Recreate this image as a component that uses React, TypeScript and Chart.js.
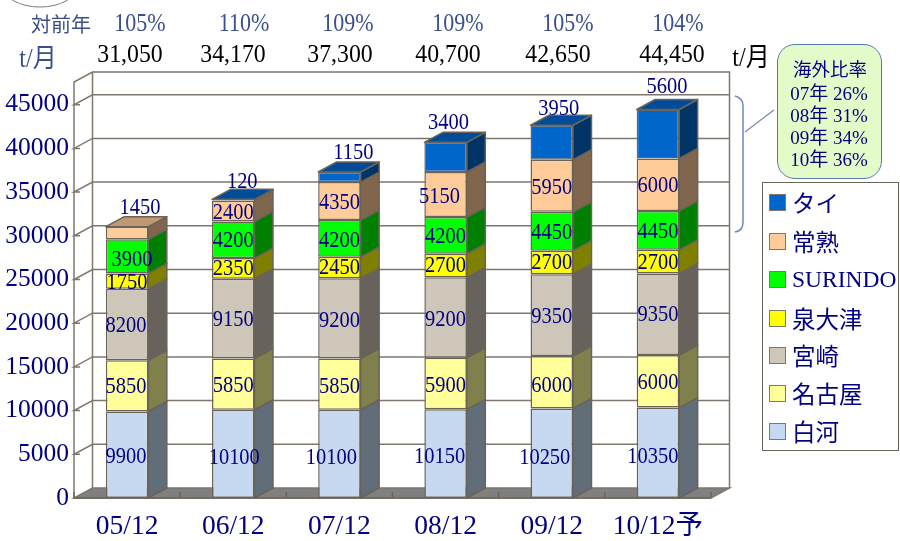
import React, { useEffect, useRef } from "react";
import { Chart, registerables } from "chart.js";

Chart.register(...registerables);

const categories = ["05/12", "06/12", "07/12", "08/12", "09/12", "10/12予"];
const shirakawa = [9900, 10100, 10100, 10150, 10250, 10350];
const nagoya = [5850, 5850, 5850, 5900, 6000, 6000];
const miyazaki = [8200, 9150, 9200, 9200, 9350, 9350];
const senotsu = [1750, 2350, 2450, 2700, 2700, 2700];
const surindo = [3900, 4200, 4200, 4200, 4450, 4450];
const joshu = [1450, 2400, 4350, 5150, 5950, 6000];
const thai = [null, 120, 1150, 3400, 3950, 5600];
const yTicks = [0, 5000, 10000, 15000, 20000, 25000, 30000, 35000, 40000, 45000];
const yoyLabels = ["105%", "110%", "109%", "109%", "105%", "104%"];
const totalLabels = ["31,050", "34,170", "37,300", "40,700", "42,650", "44,450"];
const overseasTitle = "海外比率";
const overseasLines = ["07年 26%", "08年 31%", "09年 34%", "10年 36%"];

const SERIF = '"Liberation Serif", "Noto Sans CJK JP", serif';
const GOTHIC = '"Noto Sans CJK JP", sans-serif';
const NAVY = "#000080";
const LINE = "#7f776d";
const EDGE = "#6b6358";
const DX = 18.5;
const DY = 10;

const series = [
  { name: "白河", data: shirakawa, front: "#c6d9f0", side: "#616d78", top: "#94a3b4" },
  { name: "名古屋", data: nagoya, front: "#ffff99", side: "#80804d", top: "#bfbf73" },
  { name: "宮崎", data: miyazaki, front: "#cdc6b9", side: "#67635c", top: "#9a948b" },
  { name: "泉大津", data: senotsu, front: "#ffff00", side: "#808000", top: "#bfbf00" },
  { name: "SURINDO", data: surindo, front: "#00ff00", side: "#008000", top: "#00bf00" },
  { name: "常熟", data: joshu, front: "#ffcc99", side: "#80664d", top: "#bf9973" },
  { name: "タイ", data: thai, front: "#0066cc", side: "#003366", top: "#004c99" },
];

// hand-placed label nudges per series / column, [dx, dy]
const nudges: number[][][] = [
  [[-1, 2], [1, 4], [-8, 4], [-6, 3], [-7, 5], [-5, 4]],
  [[-1, 1], [0, 2], [0, 3], [0, 2], [0, 4], [0, 2]],
  [[-1, 1], [0, 1], [0, 3], [0, 2], [0, 2], [0, 1]],
  [[0, 2], [0, 1], [0, 0], [0, 0], [0, 0], [0, 1]],
  [[5, 4], [0, 1], [0, 3], [0, 2], [0, 2], [0, 2]],
  [[13, -25], [0, 2], [0, 2], [-6, 2], [0, 2], [0, 1]],
  [[0, 0], [9, -18], [14, -24], [3, -34], [7, -34], [9, -47]],
];

const box3d = {
  id: "box3d",
  beforeDatasetsDraw(chart: any) {
    const { ctx, scales } = chart;
    const xs = scales.x;
    const ys = scales.y;
    const l = xs.left;
    const r = xs.right;
    const b = ys.getPixelForValue(0);
    const t = ys.top;
    ctx.save();
    // floor
    ctx.fillStyle = "#808080";
    ctx.beginPath();
    ctx.moveTo(l, b);
    ctx.lineTo(r, b);
    ctx.lineTo(r + DX, b - DY);
    ctx.lineTo(l + DX, b - DY);
    ctx.closePath();
    ctx.fill();
    ctx.strokeStyle = LINE;
    ctx.lineWidth = 1.5;
    ctx.stroke();
    // walls
    ctx.beginPath();
    ctx.moveTo(l, b);
    ctx.lineTo(l, t);
    ctx.lineTo(l + DX, t - DY);
    ctx.lineTo(r + DX, t - DY);
    ctx.lineTo(r + DX, b - DY);
    ctx.moveTo(l + DX, t - DY);
    ctx.lineTo(l + DX, b - DY);
    ctx.stroke();
    // grid
    for (const tick of ys.ticks) {
      if (tick.value === 0) continue;
      const y = ys.getPixelForValue(tick.value);
      ctx.beginPath();
      ctx.moveTo(l + 6, y);
      ctx.lineTo(l, y);
      ctx.lineTo(l + DX, y - DY);
      ctx.lineTo(r + DX, y - DY);
      ctx.stroke();
    }
    // floor ticks
    ctx.strokeStyle = EDGE;
    for (let i = 0; i <= categories.length; i++) {
      const x = l + ((r - l) * i) / categories.length;
      ctx.beginPath();
      ctx.moveTo(x, b);
      ctx.lineTo(x, b - 6);
      ctx.stroke();
    }
    ctx.lineWidth = 1.5;
    ctx.beginPath();
    ctx.moveTo(l, b);
    ctx.lineTo(r, b);
    ctx.stroke();
    // bar sides and tops
    ctx.strokeStyle = EDGE;
    ctx.lineJoin = "round";
    series.forEach((s, d) => {
      const meta = chart.getDatasetMeta(d);
      meta.data.forEach((el: any, i: number) => {
        if (s.data[i] == null) return;
        const xr = el.x + el.width / 2;
        ctx.fillStyle = s.side;
        ctx.beginPath();
        ctx.moveTo(xr, el.base);
        ctx.lineTo(xr + DX, el.base - DY);
        ctx.lineTo(xr + DX, el.y - DY);
        ctx.lineTo(xr, el.y);
        ctx.closePath();
        ctx.fill();
        ctx.stroke();
        const isTop = series.slice(d + 1).every((o) => o.data[i] == null);
        if (isTop) {
          const xl = el.x - el.width / 2;
          ctx.fillStyle = s.top;
          ctx.beginPath();
          ctx.moveTo(xl, el.y);
          ctx.lineTo(xr, el.y);
          ctx.lineTo(xr + DX, el.y - DY);
          ctx.lineTo(xl + DX, el.y - DY);
          ctx.closePath();
          ctx.fill();
          ctx.stroke();
        }
      });
    });
    ctx.restore();
  },
  afterDatasetsDraw(chart: any) {
    const { ctx } = chart;
    series.forEach((s, d) => {
      const meta = chart.getDatasetMeta(d);
      meta.data.forEach((el: any, i: number) => {
        const v = s.data[i];
        if (v == null) return;
        const [nx, ny] = nudges[d][i];
        ctx.save();
        ctx.font = `23px ${SERIF}`;
        ctx.fillStyle = NAVY;
        ctx.textAlign = "center";
        ctx.textBaseline = "middle";
        ctx.translate(el.x + nx, (el.y + el.base) / 2 + ny);
        ctx.scale(0.89, 1);
        ctx.fillText(String(v), 0, 0);
        ctx.restore();
      });
    });
  },
};

const at = (x: number, y: number, extra: React.CSSProperties = {}, sy = 1): React.CSSProperties => ({
  position: "absolute",
  left: x,
  top: y,
  transform: `translate(-50%, -50%) scaleY(${sy})`,
  whiteSpace: "nowrap",
  lineHeight: 1,
  ...extra,
});

const yoyX = [140, 244, 348, 458, 568, 678];
const totalX = [130, 233, 340, 448, 558, 672];
const legendY = [202, 241, 279, 318, 355, 393, 431];

export default function App() {
  const ref = useRef<HTMLCanvasElement>(null);
  useEffect(() => {
    const chart = new Chart(ref.current as HTMLCanvasElement, {
      type: "bar",
      data: {
        labels: categories,
        datasets: series.map((s) => ({
          label: s.name,
          data: s.data,
          backgroundColor: s.front,
          borderColor: EDGE,
          borderWidth: 1.5,
          borderSkipped: false,
          barPercentage: 0.4,
          categoryPercentage: 1,
        })),
      },
      options: {
        animation: false,
        responsive: false,
        layout: { padding: { top: 82, right: 189, left: 0, bottom: 0 } },
        plugins: { legend: { display: false }, tooltip: { enabled: false }, title: { display: false } },
        scales: {
          x: {
            stacked: true,
            grid: { display: false },
            border: { display: false },
            afterFit: (s: any) => {
              s.height = 43;
            },
            ticks: { color: NAVY, padding: 4, maxRotation: 0, autoSkip: false, font: { family: SERIF, size: 27.5 } },
          },
          y: {
            stacked: true,
            min: 0,
            max: 47600,
            grid: { display: false, drawTicks: false },
            border: { display: false },
            afterFit: (s: any) => {
              s.width = 74;
            },
            afterBuildTicks: (s: any) => {
              s.ticks = yTicks.map((value) => ({ value }));
            },
            ticks: {
              color: NAVY,
              padding: 5,
              callback: (v: any) => String(v),
              font: { family: SERIF, size: 25.5 },
            },
          },
        },
      } as any,
      plugins: [box3d],
    });
    return () => chart.destroy();
  }, []);

  return (
    <div style={{ position: "absolute", left: 0, top: 0, width: 900, height: 541, background: "#fff", overflow: "hidden" }}>
      <canvas ref={ref} width={900} height={541} style={{ position: "absolute", left: 0, top: 0 }} />
      <svg width={900} height={541} style={{ position: "absolute", left: 0, top: 0 }} fill="none">
        <ellipse cx={40} cy={-14} rx={37} ry={21} stroke="#7a7a7a" strokeWidth={1} />
        <path d="M735 96 Q743 98 743 106 L743 222 Q743 231 735 232" stroke="#6f86b8" strokeWidth={1.5} />
        <line x1={745} y1={132} x2={774} y2={110} stroke="#6f86b8" strokeWidth={1.2} />
      </svg>

      <span style={at(61, 23, { font: `20px ${GOTHIC}`, color: "#3b4f8c" })}>対前年</span>
      <span style={at(38, 55, { font: `24px ${SERIF}`, color: "#3b4f8c" }, 1.1)}>t/月</span>
      <span style={at(751, 54, { font: `24px ${SERIF}`, color: "#000" }, 1.1)}>t/月</span>
      {yoyLabels.map((t, i) => (
        <span key={t + i} style={at(yoyX[i], 23, { font: `22px ${SERIF}`, color: "#3b4f8c" }, 1.1)}>{t}</span>
      ))}
      {totalLabels.map((t, i) => (
        <span key={t} style={at(totalX[i], 54, { font: `23.8px ${SERIF}`, color: "#000" }, 1.1)}>{t}</span>
      ))}

      <div
        style={{
          position: "absolute",
          left: 777,
          top: 44,
          width: 105,
          height: 135,
          boxSizing: "border-box",
          borderRadius: 18,
          border: "1.5px solid #5a78b0",
          background: "#e3fbc9",
        }}
      />
      <span style={at(830, 68, { font: `18.5px ${GOTHIC}`, color: NAVY })}>{overseasTitle}</span>
      {overseasLines.map((t, i) => (
        <span key={t} style={at(829, 91 + i * 22, { font: `19px ${SERIF}`, color: NAVY })}>{t}</span>
      ))}

      <div
        style={{
          position: "absolute",
          left: 762,
          top: 182,
          width: 137,
          height: 269,
          boxSizing: "border-box",
          border: "1.5px solid #6b6358",
          background: "#fff",
        }}
      />
      {[...series].reverse().map((s, i) => (
        <React.Fragment key={s.name}>
          <div
            style={{
              position: "absolute",
              left: 769,
              top: legendY[i] - 8,
              width: 17,
              height: 17,
              boxSizing: "border-box",
              background: s.front,
              border: "1.5px solid #7f776d",
            }}
          />
          <span
            style={{
              position: "absolute",
              left: 792,
              top: legendY[i],
              transform: "translateY(-50%)",
              whiteSpace: "nowrap",
              lineHeight: 1,
              font: `23.5px ${SERIF}`,
              color: NAVY,
            }}
          >
            {s.name}
          </span>
        </React.Fragment>
      ))}
    </div>
  );
}
